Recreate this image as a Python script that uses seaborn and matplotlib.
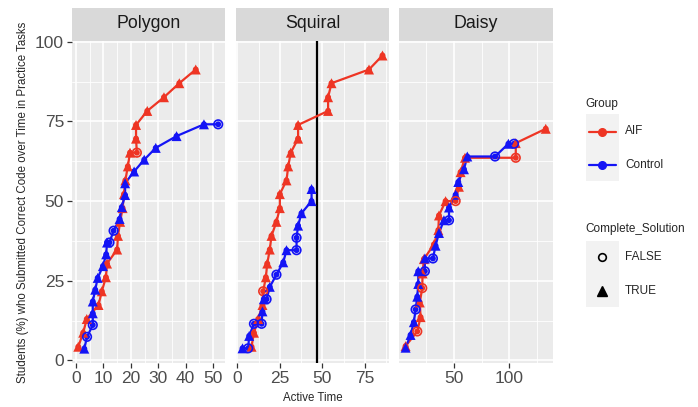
import numpy as np
import pandas as pd
import seaborn as sns
import matplotlib.pyplot as plt
from matplotlib.lines import Line2D
from matplotlib.patches import Rectangle
from matplotlib.ticker import MultipleLocator, FixedLocator

# --- data (active time, % of students) ---
# Polygon
poly_aif_x = [0.8, 2.6, 3.9, 8.2, 9.4, 10.9, 11.3, 15.0, 15.3, 16.1, 17.0, 17.5, 18.0, 18.9, 19.7, 22.2, 21.9, 21.9, 26.0, 32.1, 37.7, 43.7]
poly_aif_y = [4.3, 8.7, 13.0, 17.4, 21.7, 26.1, 30.4, 34.8, 39.1, 43.5, 47.8, 52.2, 56.5, 60.9, 65.2, 65.2, 69.6, 73.9, 78.3, 82.6, 87.0, 91.3]
poly_aif_done = [1, 1, 1, 1, 1, 1, 1, 1, 1, 1, 1, 1, 1, 1, 1, 0, 1, 1, 1, 1, 1, 1]
poly_ctl_x = [3.0, 4.0, 6.1, 6.1, 6.1, 7.0, 7.9, 9.8, 11.0, 11.3, 12.2, 13.7, 15.9, 16.7, 17.9, 17.9, 21.2, 24.9, 29.1, 36.7, 46.7, 51.9]
poly_ctl_y = [3.7, 7.4, 11.1, 14.8, 18.5, 22.2, 25.9, 29.6, 33.3, 37.0, 37.0, 40.7, 44.4, 48.1, 51.9, 55.6, 59.3, 63.0, 66.7, 70.4, 74.1, 74.1]
poly_ctl_done = [1, 0, 0, 1, 1, 1, 1, 1, 1, 1, 0, 0, 1, 1, 1, 1, 1, 1, 1, 1, 1, 0]

# Squiral
squi_aif_x = [8.4, 9.8, 12.3, 14.8, 15.2, 16.8, 17.6, 19.1, 20.1, 23.0, 25.0, 25.0, 28.9, 29.9, 31.4, 35.7, 35.7, 53.3, 53.3, 55.3, 77.3, 85.2]
squi_aif_y = [4.3, 8.7, 13.0, 17.4, 21.7, 26.1, 30.4, 34.8, 39.1, 43.5, 47.8, 52.2, 56.5, 60.9, 65.2, 69.6, 73.9, 78.3, 82.6, 87.0, 91.3, 95.7]
squi_aif_done = [1, 1, 1, 1, 0, 1, 1, 1, 1, 1, 1, 1, 1, 1, 1, 1, 1, 1, 1, 1, 1, 1]
squi_ctl_x = [3.1, 6.4, 7.0, 9.8, 14.3, 14.8, 15.6, 17.2, 19.1, 23.0, 27.0, 28.9, 34.8, 34.8, 35.7, 37.7, 43.6, 43.6]
squi_ctl_y = [3.8, 3.8, 7.7, 11.5, 11.5, 15.4, 19.2, 19.2, 23.1, 26.9, 30.8, 34.6, 34.6, 38.5, 42.3, 46.2, 50.0, 53.8]
squi_ctl_done = [1, 0, 1, 0, 0, 1, 1, 0, 1, 0, 1, 1, 0, 0, 1, 1, 1, 1]
squi_cutoff = 47

# Daisy
dais_aif_x = [6.1, 16.7, 19.7, 19.0, 21.2, 21.5, 22.7, 31.8, 35.8, 36.4, 42.4, 51.5, 54.5, 56.0, 60.0, 106.1, 106.1, 133.3]
dais_aif_y = [4.5, 9.1, 13.6, 18.2, 22.7, 27.3, 31.8, 36.4, 40.9, 45.5, 50.0, 50.0, 54.5, 59.1, 63.6, 63.6, 68.2, 72.7]
dais_aif_done = [1, 0, 1, 1, 0, 1, 1, 1, 1, 1, 1, 0, 1, 1, 1, 0, 1, 1]
dais_ctl_x = [6.1, 10.6, 13.6, 15.2, 16.7, 17.6, 17.6, 23.6, 23.6, 30.9, 33.3, 36.4, 40.9, 45.5, 45.5, 51.5, 53.9, 59.1, 62.1, 87.3, 99.4, 104.5]
dais_ctl_y = [4, 8, 12, 16, 20, 24, 28, 28, 32, 32, 36, 40, 44, 44, 48, 52, 56, 60, 64, 64, 68, 68]
dais_ctl_done = [1, 1, 1, 0, 1, 1, 1, 0, 1, 0, 1, 1, 1, 0, 1, 1, 1, 1, 1, 0, 1, 0]

tasks = ['Polygon', 'Squiral', 'Daisy']
groups = ['AIF', 'Control']
colors = {'AIF': '#EE3524', 'Control': '#1414F5'}

series = {
    ('Polygon', 'AIF'): (poly_aif_x, poly_aif_y, poly_aif_done),
    ('Polygon', 'Control'): (poly_ctl_x, poly_ctl_y, poly_ctl_done),
    ('Squiral', 'AIF'): (squi_aif_x, squi_aif_y, squi_aif_done),
    ('Squiral', 'Control'): (squi_ctl_x, squi_ctl_y, squi_ctl_done),
    ('Daisy', 'AIF'): (dais_aif_x, dais_aif_y, dais_aif_done),
    ('Daisy', 'Control'): (dais_ctl_x, dais_ctl_y, dais_ctl_done),
}

rows = []
for (task, grp), (xs, ys, dn) in series.items():
    for i, (x, y, d) in enumerate(zip(xs, ys, dn)):
        rows.append({'Task': task, 'Group': grp, 'order': i, 'ActiveTime': x,
                     'Pct': y, 'Complete_Solution': bool(d)})
df = pd.DataFrame(rows)

sns.set_theme(style='darkgrid')
plt.rcParams['font.family'] = ['Liberation Sans', 'DejaVu Sans']

W, H = 698, 407
fig = plt.figure(figsize=(W / 100, H / 100), dpi=100)

panel_left = {'Polygon': 71.7, 'Squiral': 235.7, 'Daisy': 399.2}
panel_w = 153.6
top_px, bot_px = 40.5, 363.3

xlims = {'Polygon': (-1.6, 54.5), 'Squiral': (-0.9, 89.2), 'Daisy': (0.3, 139.7)}
xmajor = {'Polygon': [0, 10, 20, 30, 40, 50], 'Squiral': [0, 25, 50, 75], 'Daisy': [50, 100]}
xminor = {'Polygon': [5, 15, 25, 35, 45], 'Squiral': [12.5, 37.5, 62.5, 87.5], 'Daisy': [25, 75, 125]}

strip_h = 33 / (bot_px - top_px)

for k, task in enumerate(tasks):
    ax = fig.add_axes([panel_left[task] / W, 1 - bot_px / H, panel_w / W, (bot_px - top_px) / H])
    ax.set_facecolor('#EBEBEB')
    for s in ax.spines.values():
        s.set_visible(False)
    ax.set_xlim(*xlims[task])
    ax.set_ylim(-0.9, 100.4)
    ax.xaxis.set_major_locator(FixedLocator(xmajor[task]))
    ax.xaxis.set_minor_locator(FixedLocator(xminor[task]))
    ax.yaxis.set_major_locator(FixedLocator([0, 25, 50, 75, 100]))
    ax.yaxis.set_minor_locator(FixedLocator([12.5, 37.5, 62.5, 87.5]))
    ax.grid(which='major', color='white', lw=1.2)
    ax.grid(which='minor', color='white', lw=0.6)
    ax.set_axisbelow(True)
    ax.tick_params(which='major', length=3.5, width=0.9, color='#333333',
                   labelsize=12.5, labelcolor='#4D4D4D', pad=2)
    ax.tick_params(which='minor', length=0)
    ax.tick_params(axis='x', bottom=True)
    if k == 0:
        ax.tick_params(axis='y', left=True)
    else:
        ax.tick_params(axis='y', left=False, labelleft=False)

    sub = df[df['Task'] == task]
    if task == 'Squiral':
        ax.axvline(squi_cutoff, color='black', lw=1.6, zorder=1.5)

    sns.lineplot(data=sub, x='ActiveTime', y='Pct', hue='Group', units='Group',
                 estimator=None, sort=False, palette=colors, hue_order=groups,
                 lw=1.6, legend=False, ax=ax, zorder=2)
    sns.scatterplot(data=sub, x='ActiveTime', y='Pct', hue='Group', palette=colors,
                    hue_order=groups, s=18, linewidth=0, legend=False, ax=ax, zorder=3)
    done = sub[sub['Complete_Solution']]
    sns.scatterplot(data=done, x='ActiveTime', y='Pct', hue='Group', palette=colors,
                    hue_order=groups, marker='^', s=52, linewidth=0, legend=False,
                    ax=ax, zorder=4)
    for grp in groups:
        nd = sub[(~sub['Complete_Solution']) & (sub['Group'] == grp)]
        ax.scatter(nd['ActiveTime'], nd['Pct'], s=38, facecolors='none',
                   edgecolors=colors[grp], linewidths=1.2, zorder=4)
    ax.set_xlabel('')
    ax.set_ylabel('')

    ax.add_patch(Rectangle((0, 1.0), 1, strip_h, transform=ax.transAxes,
                           facecolor='#D9D9D9', edgecolor='none', clip_on=False))
    ax.text(0.5, 1.0 + strip_h / 2, task, transform=ax.transAxes, ha='center',
            va='center', fontsize=12.8, color='#1A1A1A')

fig.text(313 / W, 1 - 398 / H, 'Active Time', ha='center', va='center', fontsize=8.3)
fig.text(22.7 / W, 1 - 202 / H,
         'Students (%) who Submitted Correct Code over Time in Practice Tasks',
         rotation=90, ha='center', va='center', fontsize=8.3)

# legends
def fx(px):
    return px / W

def fy(py):
    return 1 - py / H

fig.text(fx(585.7), fy(104), 'Group', ha='left', va='center', fontsize=8.5)
fig.add_artist(Rectangle((fx(585.7), fy(180.7)), fx(619) - fx(585.7), fy(114) - fy(180.7),
                         transform=fig.transFigure, facecolor='#F2F2F2', edgecolor='none'))
for py, grp in [(131.5, 'AIF'), (164.8, 'Control')]:
    fig.add_artist(Line2D([fx(589), fx(616)], [fy(py), fy(py)], transform=fig.transFigure,
                          color=colors[grp], lw=1.6))
    fig.add_artist(Line2D([fx(602.3)], [fy(py)], transform=fig.transFigure, marker='o',
                          ms=5.5, color=colors[grp], lw=0))
    fig.text(fx(625), fy(py), grp, ha='left', va='center', fontsize=8.5)

fig.text(fx(585.7), fy(229.3), 'Complete_Solution', ha='left', va='center', fontsize=8.5)
fig.add_artist(Rectangle((fx(585.7), fy(307.3)), fx(619) - fx(585.7), fy(240.7) - fy(307.3),
                         transform=fig.transFigure, facecolor='#F2F2F2', edgecolor='none'))
fig.add_artist(Line2D([fx(602.3)], [fy(257.3)], transform=fig.transFigure, marker='o',
                      ms=5.5, mfc='none', mec='black', mew=1.2, lw=0))
fig.add_artist(Line2D([fx(602.3)], [fy(290.7)], transform=fig.transFigure, marker='^',
                      ms=6.8, color='black', lw=0))
fig.text(fx(625), fy(257.3), 'FALSE', ha='left', va='center', fontsize=8.5)
fig.text(fx(625), fy(290.7), 'TRUE', ha='left', va='center', fontsize=8.5)

fig.savefig('out.png', dpi=100)
